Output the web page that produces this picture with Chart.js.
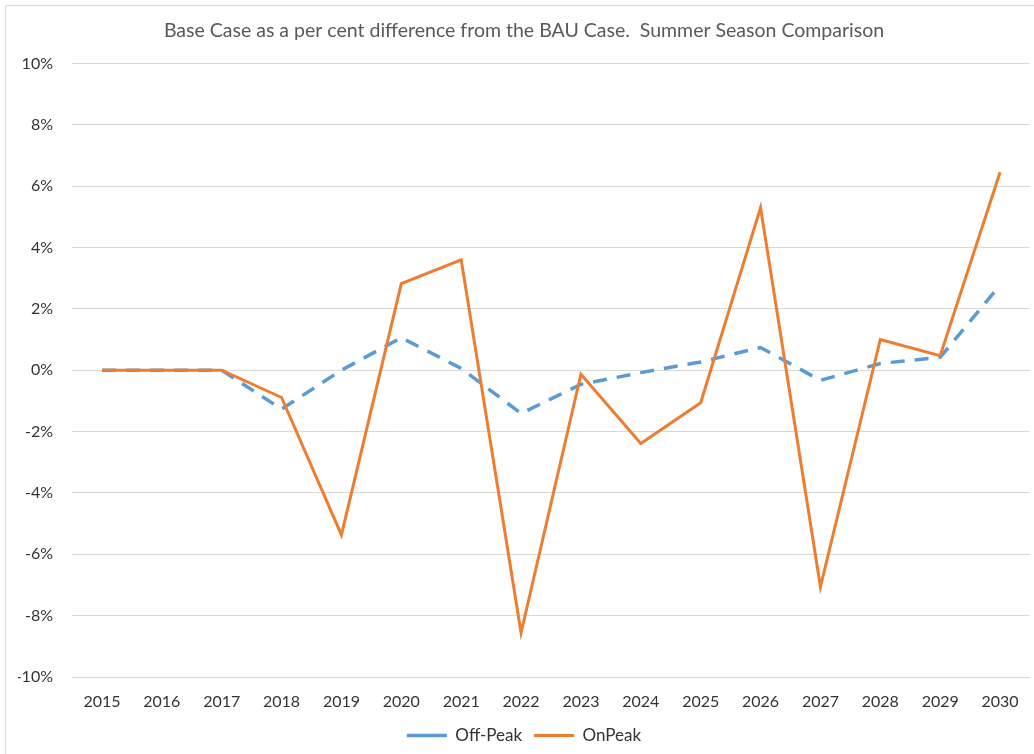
<!DOCTYPE html>
<html>
<head>
<meta charset="utf-8">
<script src="https://cdn.jsdelivr.net/npm/chart.js@4/dist/chart.umd.min.js"></script>
<style>
  html, body { margin: 0; padding: 0; background: #fff; overflow: hidden; }
  /* chart frame is wider than the window, its right side runs off-screen */
  #frame {
    position: absolute; left: 5px; top: 5px;
    width: 1046px; height: 760px;
    border: 1px solid #d9d9d9; background: #fff;
  }
  #wrap { position: absolute; left: 0; top: 0; width: 1046px; height: 748px; }
</style>
</head>
<body>
<div id="frame"><div id="wrap"><canvas id="chart"></canvas></div></div>
<script>
const YEARS = ["2015","2016","2017","2018","2019","2020","2021","2022",
               "2023","2024","2025","2026","2027","2028","2029","2030"];

// per cent difference, Base vs BAU, summer season
const OFF_PEAK = [0, 0, 0, -1.27, 0, 1.06, 0.06, -1.41, -0.46, -0.08, 0.27, 0.74, -0.33, 0.22, 0.42, 2.77];
const ON_PEAK  = [0, 0, 0, -0.89, -5.37, 2.82, 3.6, -8.56, -0.13, -2.39, -1.06, 5.3, -7.06, 1.0, 0.47, 6.45];

const Y_MIN = -10;
const Y_MAX = 10;
const Y_STEP = 2;

const BLUE = "#5b9bd5";
const ORANGE = "#ed7d31";
const GRID = "#d9d9d9";
const INK = "#333333";
const INK2 = "#595959";

const FONT = "Lato, 'Open Sans', sans-serif";

new Chart(document.getElementById("chart"), {
  type: "line",
  data: {
    labels: YEARS,
    datasets: [
      {
        label: "Off-Peak",
        data: OFF_PEAK,
        borderColor: BLUE,
        backgroundColor: BLUE,
        borderWidth: 3.5,
        borderDash: [14, 10],
        pointRadius: 0,
        tension: 0,
        order: 1,
      },
      {
        label: "OnPeak",
        data: ON_PEAK,
        borderColor: ORANGE,
        backgroundColor: ORANGE,
        borderWidth: 3,
        pointRadius: 0,
        tension: 0,
        order: 0,
      },
    ],
  },
  options: {
    responsive: true,
    maintainAspectRatio: false,
    animation: false,
    // left padding nudges title and legend right; y labels still fit in their box
    layout: { padding: { left: 12, right: 22, top: 0, bottom: 0 } },
    plugins: {
      title: {
        display: true,
        text: "Base Case as a per cent difference from the BAU Case.  Summer Season Comparison",
        color: INK2,
        font: { family: FONT, size: 19.5, weight: "normal" },
        padding: { top: 13, bottom: 21 },
      },
      legend: {
        position: "bottom",
        labels: {
          color: INK,
          font: { family: FONT, size: 17 },
          usePointStyle: true,
          pointStyle: "line",
          pointStyleWidth: 40,
          padding: 12,
          sort: (a, b) => a.datasetIndex - b.datasetIndex,
        },
      },
      tooltip: { enabled: false },
    },
    scales: {
      x: {
        grid: { display: false, drawTicks: false },
        border: { display: false },
        offset: true,
        ticks: {
          color: INK,
          font: { family: FONT, size: 16 },
          padding: 15,
          maxRotation: 0,
        },
        afterFit: (scale) => { scale.height = 38; },
      },
      y: {
        min: Y_MIN,
        max: Y_MAX,
        grid: { color: GRID, lineWidth: 1, drawTicks: false },
        border: { display: false },
        ticks: {
          stepSize: Y_STEP,
          color: INK,
          font: { family: FONT, size: 16 },
          padding: 19,
          callback: (v) => v + "%",
        },
        afterFit: (scale) => { scale.width = 54; },
      },
    },
  },
});
</script>
</body>
</html>
